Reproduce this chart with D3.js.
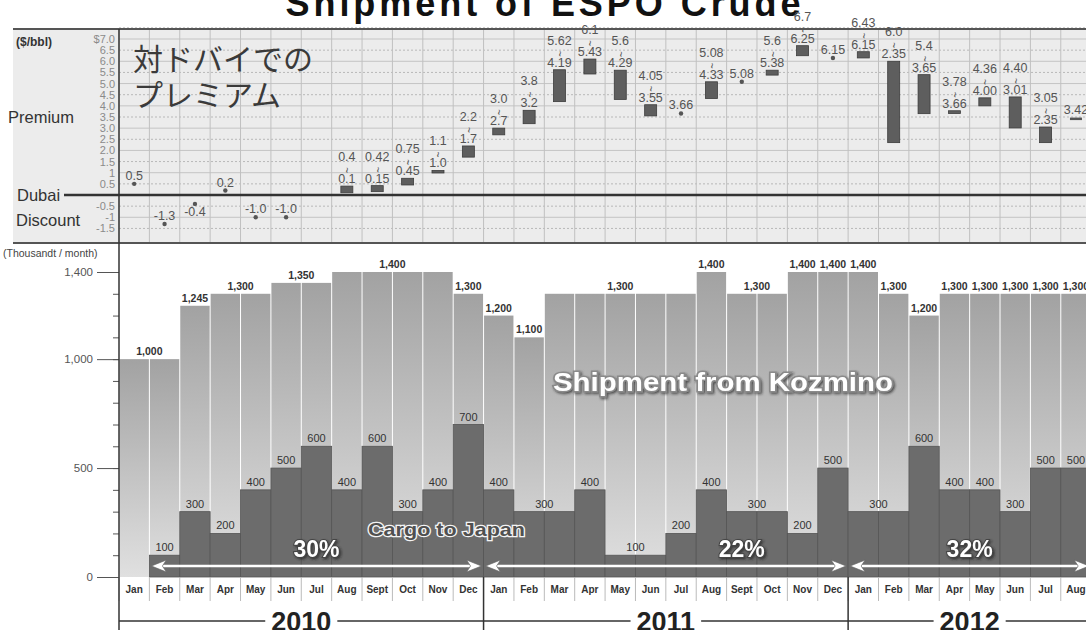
<!DOCTYPE html>
<html>
<head>
<meta charset="utf-8">
<script src="https://cdn.jsdelivr.net/npm/d3@7"></script>
<style>
body { margin: 0; background: #fff; }
svg { display: block; font-family: 'Liberation Sans', Arial, sans-serif; }
</style>
</head>
<body>
<svg id="chart" width="1086" height="630"></svg>
<script>
var monthNames = ['Jan', 'Feb', 'Mar', 'Apr', 'May', 'Jun', 'Jul', 'Aug', 'Sept', 'Oct', 'Nov', 'Dec'];
var years = ['2010', '2011', '2012'];
var yearSpans = [[0, 11], [12, 23], [24, 31]];

// thousand bbl / month, Jan 2010 .. Aug 2012
var shipment = [1000, 1000, 1245, 1300, 1300, 1350, 1350, 1400, 1400, 1400, 1400, 1300,
                1200, 1100, 1300, 1300, 1300, 1300, 1300, 1400, 1300, 1300, 1400, 1400,
                1400, 1300, 1200, 1300, 1300, 1300, 1300, 1300];
var cargo = [0, 100, 300, 200, 400, 500, 600, 400, 600, 300, 400, 700,
             400, 300, 300, 400, 100, 100, 200, 400, 300, 300, 200, 500,
             300, 300, 600, 400, 400, 300, 500, 500];

// premium vs Dubai ($/bbl), kept as text so the printed decimals stay
var priceLow = ['0.5', '-1.3', '-0.4', '0.2', '-1.0', '-1.0', null, '0.1', '0.15', '0.45', '1.0', '1.7',
                '2.7', '3.2', '4.19', '5.43', '4.29', '3.55', '3.66', '4.33', '5.08', '5.38', '6.25', '6.15',
                '6.15', '2.35', '3.65', '3.66', '4.00', '3.01', '2.35', '3.42'];
var priceHigh = [null, null, null, null, null, null, null, '0.4', '0.42', '0.75', '1.1', '2.2',
                 '3.0', '3.8', '5.62', '6.1', '5.6', '4.05', null, '5.08', null, '5.6', '6.7', null,
                 '6.43', '6.0', '5.4', '3.78', '4.36', '4.40', '3.05', '3.42'];

var priceTicks = [7.0, 6.5, 6.0, 5.5, 5.0, 4.5, 4.0, 3.5, 3.0, 2.5, 2.0, 1.5, 1.0, 0.5, -0.5, -1.0, -1.5];
var priceTickLabels = ['$7.0', '6.5', '6.0', '5.5', '5.0', '4.5', '4.0', '3.5', '3.0', '2.5', '2.0', '1.5', '1', '0.5', '-0.5', '-1', '-1.5'];
var shipTicks = [0, 500, 1000, 1400];

var shipLabelSpans = [[0, 1], [2, 2], [3, 4], [5, 6], [7, 10], [11, 11], [12, 12], [13, 13], [14, 18],
                      [19, 19], [20, 21], [22, 22], [23, 23], [24, 24], [25, 25], [26, 26], [27, 27],
                      [28, 28], [29, 29], [30, 30], [31, 31]];
var cargoLabelSpans = [[1, 1], [2, 2], [3, 3], [4, 4], [5, 5], [6, 6], [7, 7], [8, 8], [9, 9], [10, 10], [11, 11],
                       [12, 12], [13, 14], [15, 15], [16, 17], [18, 18], [19, 19], [20, 21], [22, 22], [23, 23],
                       [24, 25], [26, 26], [27, 27], [28, 28], [29, 29], [30, 30], [31, 31]];

var shareLabels = ['30%', '22%', '32%'];
var shareSpans = [[1, 11], [12, 23], [24, 31]];

var left_margin = 119;
var col_w = 30.38;
var n = shipment.length;

var svg = d3.select('#chart');

var x = d3.scaleBand().domain(d3.range(n)).range([left_margin, left_margin + col_w * n]);
var bw = x.bandwidth();
var yP = d3.scaleLinear().domain([0, 7]).range([195, 39]);
var yS = d3.scaleLinear().domain([0, 1400]).range([577, 272]);

function colX(i){ return left_margin + i * bw; }

var defs = svg.append('defs');
var grad = defs.append('linearGradient').attr('id', 'shipGrad')
               .attr('x1', 0).attr('y1', 0).attr('x2', 0).attr('y2', 1);
grad.append('stop').attr('offset', '0%').attr('stop-color', '#a2a2a2');
grad.append('stop').attr('offset', '100%').attr('stop-color', '#e0e0e0');
defs.append('filter').attr('id', 'shadow').attr('x', '-10%').attr('y', '-30%')
    .attr('width', '130%').attr('height', '170%')
    .append('feDropShadow').attr('dx', 1.5).attr('dy', 1.5).attr('stdDeviation', 1)
    .attr('flood-color', '#222').attr('flood-opacity', 0.7);

// title (cut off at the top in the source)
svg.append('text').text('Shipment of ESPO Crude')
   .attr('x', 543).attr('y', 16).attr('text-anchor', 'middle')
   .attr('font-size', 36).attr('font-weight', 'bold').attr('fill', '#111')
   .attr('textLength', 515).attr('lengthAdjust', 'spacing');

// ---- premium panel ----
svg.append('rect').attr('x', 13).attr('y', 29).attr('width', 1073).attr('height', 214).attr('fill', '#ececec');

var gridY = priceTicks.concat([0, 7.5]);
svg.selectAll('line.hgrid').data(gridY).enter().append('line')
   .attr('class', 'hgrid')
   .attr('x1', left_margin).attr('x2', 1086)
   .attr('y1', function(d){ return yP(d); }).attr('y2', function(d){ return yP(d); })
   .attr('stroke', function(d){ return d % 1 === 0 ? '#c4c4c4' : '#b8b8b8'; })
   .attr('stroke-dasharray', function(d){ return d % 1 === 0 ? null : '2,2'; })
   .attr('stroke-width', 1);

svg.selectAll('line.vgrid').data(d3.range(n + 1)).enter().append('line')
   .attr('class', 'vgrid')
   .attr('x1', colX).attr('x2', colX)
   .attr('y1', 29).attr('y2', 243)
   .attr('stroke', '#c0c0c0').attr('stroke-width', 1);

svg.selectAll('text.ptick').data(priceTicks).enter().append('text')
   .attr('class', 'ptick')
   .text(function(d, i){ return priceTickLabels[i]; })
   .attr('x', 115).attr('y', function(d){ return yP(d) + 4; })
   .attr('text-anchor', 'end').attr('font-size', 11).attr('fill', '#8a8a8a');

svg.append('line').attr('x1', 13).attr('x2', 1086).attr('y1', 29).attr('y2', 29).attr('stroke', '#555').attr('stroke-width', 2);
svg.append('line').attr('x1', 13).attr('x2', 1086).attr('y1', 243).attr('y2', 243).attr('stroke', '#555').attr('stroke-width', 2);
svg.append('line').attr('x1', 64).attr('x2', 1086).attr('y1', yP(0)).attr('y2', yP(0)).attr('stroke', '#333').attr('stroke-width', 2.5);

svg.append('text').text('($/bbl)').attr('x', 16).attr('y', 46).attr('font-size', 12).attr('font-weight', 'bold').attr('fill', '#333');
svg.append('text').text('Premium').attr('x', 8).attr('y', 123).attr('font-size', 16.5).attr('fill', '#333');
svg.append('text').text('Dubai').attr('x', 17).attr('y', 201).attr('font-size', 16.5).attr('fill', '#333');
svg.append('text').text('Discount').attr('x', 16).attr('y', 226).attr('font-size', 16.5).attr('fill', '#333');

var jp = svg.append('text').attr('font-family', "'Noto Sans CJK JP', sans-serif")
            .attr('font-size', 30).attr('fill', '#3a3a3a');
jp.append('tspan').text('対ドバイでの').attr('x', 133).attr('y', 70);
jp.append('tspan').text('プレミアム').attr('x', 133).attr('y', 106);

var priceData = priceLow.map(function(lo, i){ return {i: i, lo: lo, hi: priceHigh[i]}; })
                        .filter(function(d){ return d.lo !== null; });

var pg = svg.append('g').attr('font-size', 12.5).attr('fill', '#555');
priceData.forEach(function(d){
    var cx = x(d.i) + bw / 2;
    if (d.hi === null){
        var cy = yP(+d.lo);
        pg.append('circle').attr('cx', cx).attr('cy', cy).attr('r', 2.2).attr('fill', '#555');
        var below = +d.lo < 0 && +d.lo > -0.5;
        pg.append('text').text(d.lo).attr('x', cx).attr('y', below ? cy + 12 : cy - 4)
          .attr('text-anchor', 'middle');
    }
    else if (d.hi === d.lo){
        var dy = yP(+d.lo);
        pg.append('rect').attr('x', cx - 6).attr('y', dy - 1.2).attr('width', 12).attr('height', 2.5).attr('fill', '#555');
        pg.append('text').text(d.lo).attr('x', cx).attr('y', dy - 5).attr('text-anchor', 'middle');
    }
    else {
        var top = yP(+d.hi);
        var h = Math.max(yP(+d.lo) - top, 2.5);
        pg.append('rect').attr('x', cx - 6).attr('y', top).attr('width', 12).attr('height', h)
          .attr('fill', '#5e5e5e').attr('stroke', '#3c3c3c').attr('stroke-width', 0.8);
        pg.append('text').text(d.lo).attr('x', cx).attr('y', top - 3).attr('text-anchor', 'middle');
        pg.append('text').text('~').attr('text-anchor', 'middle').attr('dominant-baseline', 'central')
          .attr('font-size', 10)
          .attr('transform', 'translate(' + cx + ',' + (top - 16) + ') rotate(90)');
        pg.append('text').text(d.hi).attr('x', cx).attr('y', top - 25).attr('text-anchor', 'middle');
    }
});

// ---- shipment panel ----
svg.append('text').text('(Thousandt / month)').attr('x', 3).attr('y', 257)
   .attr('font-size', 10.5).attr('fill', '#444');

svg.selectAll('rect.ship').data(shipment).enter().append('rect')
   .attr('class', 'ship')
   .attr('x', function(d, i){ return x(i) + 0.5; })
   .attr('y', function(d){ return yS(d); })
   .attr('width', bw - 1)
   .attr('height', function(d){ return yS(0) - yS(d); })
   .attr('fill', 'url(#shipGrad)');

svg.selectAll('rect.cargo').data(cargo).enter().append('rect')
   .attr('class', 'cargo')
   .attr('x', function(d, i){ return x(i); })
   .attr('y', function(d){ return yS(d); })
   .attr('width', bw)
   .attr('height', function(d){ return yS(0) - yS(d); })
   .attr('fill', '#6c6c6c').attr('stroke', '#555').attr('stroke-width', 0.8);

svg.selectAll('text.shipLab').data(shipLabelSpans).enter().append('text')
   .attr('class', 'shipLab')
   .text(function(d){ return d3.format(',')(shipment[d[0]]); })
   .attr('x', function(d){ return (colX(d[0]) + colX(d[1] + 1)) / 2; })
   .attr('y', function(d){ return yS(shipment[d[0]]) - 4; })
   .attr('text-anchor', 'middle').attr('font-size', 10.5).attr('font-weight', 'bold').attr('fill', '#333');

svg.selectAll('text.cargoLab').data(cargoLabelSpans).enter().append('text')
   .attr('class', 'cargoLab')
   .text(function(d){ return cargo[d[0]]; })
   .attr('x', function(d){ return (colX(d[0]) + colX(d[1] + 1)) / 2; })
   .attr('y', function(d){ return yS(cargo[d[0]]) - 4; })
   .attr('text-anchor', 'middle').attr('font-size', 11).attr('fill', '#333');

var yAxis = svg.append('g').attr('transform', 'translate(' + left_margin + ',0)')
               .call(d3.axisLeft(yS).tickValues(shipTicks).tickSize(22).tickPadding(4).tickFormat(d3.format(',')));
yAxis.select('.domain').remove();
yAxis.selectAll('line').attr('stroke', '#555');
yAxis.selectAll('text').attr('font-size', 11.5).attr('fill', '#555').attr('font-family', "'Liberation Sans', Arial, sans-serif");

var minor = svg.append('g').attr('transform', 'translate(' + left_margin + ',0)')
               .call(d3.axisLeft(yS).tickValues(d3.range(0, 1401, 100)).tickSize(6).tickFormat(''));
minor.select('.domain').remove();
minor.selectAll('line').attr('stroke', '#555');

// arrows + share of Japan
var ay = 566;
function arrowHead(xTip, dir){
    var b = xTip - dir * 15, nch = xTip - dir * 11;
    return 'M' + xTip + ',' + ay + 'L' + b + ',' + (ay - 6) + 'L' + nch + ',' + ay + 'L' + b + ',' + (ay + 6) + 'Z';
}
shareSpans.forEach(function(s){
    var x1 = colX(s[0]) + 2, x2 = colX(s[1] + 1) - 2;
    svg.append('line').attr('x1', x1 + 4).attr('x2', x2 - 4).attr('y1', ay).attr('y2', ay)
       .attr('stroke', '#fff').attr('stroke-width', 2.5);
    svg.append('path').attr('d', arrowHead(x1, -1)).attr('fill', '#fff').attr('stroke', '#666').attr('stroke-width', 0.7);
    svg.append('path').attr('d', arrowHead(x2, 1)).attr('fill', '#fff').attr('stroke', '#666').attr('stroke-width', 0.7);
});

var shareLabelPos = [6.5, 20.5, 28];
svg.selectAll('text.share').data(shareLabels).enter().append('text')
   .attr('class', 'share')
   .text(function(d){ return d; })
   .attr('x', function(d, i){ return left_margin + shareLabelPos[i] * bw; })
   .attr('y', 557).attr('text-anchor', 'middle')
   .attr('font-size', 23).attr('font-weight', 'bold')
   .attr('fill', '#fff').attr('stroke', '#444').attr('stroke-width', 2).attr('paint-order', 'stroke')
   .attr('filter', 'url(#shadow)');

svg.append('text').text('Shipment from Kozmino')
   .attr('x', 723).attr('y', 391).attr('text-anchor', 'middle')
   .attr('font-size', 25).attr('font-weight', 'bold')
   .attr('textLength', 340).attr('lengthAdjust', 'spacingAndGlyphs')
   .attr('fill', '#fff').attr('stroke', '#8a8a8a').attr('stroke-width', 3).attr('paint-order', 'stroke')
   .attr('filter', 'url(#shadow)');

svg.append('text').text('Cargo to Japan')
   .attr('x', 368).attr('y', 536)
   .attr('font-size', 19).attr('font-weight', 'bold')
   .attr('textLength', 157).attr('lengthAdjust', 'spacingAndGlyphs')
   .attr('fill', '#505050').attr('stroke', '#f4f4f4').attr('stroke-width', 2.5).attr('paint-order', 'stroke');

// month row
svg.selectAll('line.msep').data(d3.range(n + 1)).enter().append('line')
   .attr('class', 'msep')
   .attr('x1', colX).attr('x2', colX).attr('y1', 577).attr('y2', 601)
   .attr('stroke', '#bbb');

svg.selectAll('text.month').data(d3.range(n)).enter().append('text')
   .attr('class', 'month')
   .text(function(i){ return monthNames[i % 12]; })
   .attr('x', function(i){ return x(i) + bw / 2; })
   .attr('y', 593).attr('text-anchor', 'middle')
   .attr('font-size', 10).attr('font-weight', 'bold').attr('fill', '#333');

// years
yearSpans.forEach(function(s, k){
    var x1 = colX(s[0]), x2 = Math.min(colX(s[1] + 1), 1086);
    var cx = (colX(s[0]) + colX(s[1] + 1)) / 2;
    var t = svg.append('text').text(years[k]).attr('x', cx).attr('y', 631)
               .attr('text-anchor', 'middle').attr('font-size', 27).attr('font-weight', 'bold').attr('fill', '#222');
    var tw = t.node().getComputedTextLength();
    svg.append('line').attr('x1', x1).attr('x2', cx - tw / 2 - 6).attr('y1', 621).attr('y2', 621).attr('stroke', '#333').attr('stroke-width', 1.5);
    svg.append('line').attr('x1', cx + tw / 2 + 6).attr('x2', x2).attr('y1', 621).attr('y2', 621).attr('stroke', '#333').attr('stroke-width', 1.5);
    if (k > 0){
        svg.append('line').attr('x1', x1).attr('x2', x1).attr('y1', 577).attr('y2', 630).attr('stroke', '#333').attr('stroke-width', 1.5);
    }
});

svg.append('line').attr('x1', left_margin).attr('x2', left_margin).attr('y1', 29).attr('y2', 630)
   .attr('stroke', '#333').attr('stroke-width', 1.5);
</script>
</body>
</html>
